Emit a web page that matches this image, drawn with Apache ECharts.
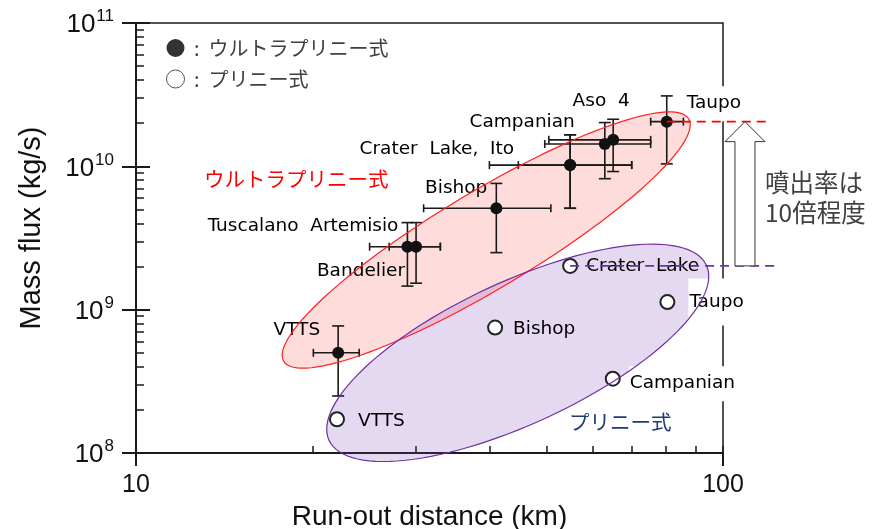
<!DOCTYPE html>
<html>
<head>
<meta charset="utf-8">
<script src="https://cdn.jsdelivr.net/npm/echarts@6/dist/echarts.min.js"></script>
<style>
html, body { margin: 0; padding: 0; background: #fff; }
#chart { width: 881px; height: 529px; }
</style>
</head>
<body>
<div id="chart"></div>
<script>
// Ultra-Plinian eruptions (filled dots): run-out distance (km) and mass flux (kg/s)
const ultraNames = ['Taupo', 'Aso 4', 'Campanian', 'Crater Lake', 'Ito', 'Bishop', 'Tuscalano/Artemisio', 'Bandelier', 'VTTS'];
const ultraDist  = [80.2, 65.0, 62.9, 54.9, 54.9, 41.1, 29.0, 30.0, 22.1];
const ultraFlux  = [2.05e10, 1.53e10, 1.43e10, 1.02e10, 1.02e10, 5.1e9, 2.75e9, 2.75e9, 5.0e8];
// Error ranges for the ultra-Plinian points
const ultraDistLow  = [75.3, 50.5, 49.7, 40.0, 44.8, 30.9, 25.0, 27.0, 20.05];
const ultraDistHigh = [85.6, 75.3, 75.3, 69.9, 69.9, 50.9, 33.0, 33.0, 24.0];
const ultraFluxLow  = [1.04e10, 9.2e9, 8.2e9, 5.1e9, 5.1e9, 2.5e9, 1.46e9, 1.53e9, 2.5e8];
const ultraFluxHigh = [3.1e10, 2.13e10, 2.02e10, 1.66e10, 1.66e10, 7.6e9, 4.05e9, 4.05e9, 7.7e8];
// Text shown beside each ultra-Plinian point ('' = no text)
const ultraLabels = ['Taupo', 'Aso  4', 'Campanian', 'Crater  Lake,  Ito', '', 'Bishop', 'Tuscalano  Artemisio', 'Bandelier', 'VTTS'];

// Plinian eruptions (open circles)
const plinianNames = ['VTTS', 'Bishop', 'Crater Lake', 'Taupo', 'Campanian'];
const plinianDist  = [22.0, 40.9, 54.9, 80.4, 64.9];
const plinianFlux  = [1.72e8, 7.5e8, 2.02e9, 1.13e9, 3.3e8];
const plinianLabels = ['VTTS', 'Bishop', 'Crater  Lake', 'Taupo', 'Campanian'];

// Axis ranges and tick values
const xRange = [10, 100];
const yRange = [1e8, 1e11];
const xMinorTicks = [10, 20, 30, 40, 50, 60, 70, 80, 90, 100];
const yMajorTicks = [1e8, 1e9, 1e10, 1e11];
const yMinorTicks = [2e8, 3e8, 4e8, 5e8, 6e8, 7e8, 8e8, 9e8,
                     2e9, 3e9, 4e9, 5e9, 6e9, 7e9, 8e9, 9e9,
                     2e10, 3e10, 4e10, 5e10, 6e10, 7e10, 8e10, 9e10];

// Group envelopes: centre in data units
const ultraEnvelopeCentre = [39.5, 3.06e9];
const plinianEnvelopeCentre = [44.7, 5.0e8];
// Guide lines run past the right edge of the plot to these distances
const redGuideEnd = 121;
const purpleGuideEnd = 123;
const arrowDist = 109;

// Label placement (offset from point centre, px)
const ultraLabelPlace = {
  'Taupo':                {align: 'left',   dx: 19,  dy: -18, bg: true},
  'Aso  4':               {align: 'center', dx: -12, dy: -39},
  'Campanian':            {align: 'right',  dx: -30, dy: -22},
  'Crater  Lake,  Ito':   {align: 'right',  dx: -56, dy: -16},
  'Bishop':               {align: 'right',  dx: -9,  dy: -20},
  'Tuscalano  Artemisio': {align: 'right',  dx: -9,  dy: -21},
  'Bandelier':            {align: 'right',  dx: -11, dy: 24},
  'VTTS':                 {align: 'right',  dx: -18, dy: -23}
};
const plinianLabelPlace = {
  'VTTS':         {align: 'left', dx: 21, dy: 2},
  'Bishop':       {align: 'left', dx: 18, dy: 2},
  'Crater  Lake': {align: 'left', dx: 16, dy: 0},
  'Taupo':        {align: 'left', dx: 21, dy: 0, bg: true, padV: 14},
  'Campanian':    {align: 'left', dx: 16, dy: 5, bg: true}
};

const labelFont = 'DejaVu Sans';
const jpFont = 'Noto Sans CJK JP';

function makeLabel(text, place) {
  if (!text) return {show: false};
  const pv = place.padV || 8;
  return {
    show: true,
    formatter: text,
    position: 'inside',
    align: place.align,
    verticalAlign: 'middle',
    offset: [place.dx, place.dy],
    color: '#000',
    fontSize: 18.5,
    fontFamily: labelFont,
    backgroundColor: place.bg ? '#fff' : 'transparent',
    padding: place.bg ? [pv, 3, pv, 1] : 0
  };
}

const ultraData = ultraNames.map((n, i) => ({
  name: n,
  value: [ultraDist[i], ultraFlux[i]],
  label: makeLabel(ultraLabels[i], ultraLabelPlace[ultraLabels[i]] || {})
}));
const plinianData = plinianNames.map((n, i) => ({
  name: n,
  value: [plinianDist[i], plinianFlux[i]],
  label: makeLabel(plinianLabels[i], plinianLabelPlace[plinianLabels[i]])
}));
const errorData = ultraNames.map((n, i) => [
  ultraDist[i], ultraFlux[i], ultraDistLow[i], ultraDistHigh[i], ultraFluxLow[i], ultraFluxHigh[i]
]);

const chart = echarts.init(document.getElementById('chart'), null, {renderer: 'canvas'});

const ink = '#1a1a1a';

function renderErrorBar(params, api) {
  const x = api.value(0), y = api.value(1);
  const c = api.coord([x, y]);
  const l = api.coord([api.value(2), y]);
  const r = api.coord([api.value(3), y]);
  const b = api.coord([x, api.value(4)]);
  const t = api.coord([x, api.value(5)]);
  const style = {stroke: ink, lineWidth: 1.6, fill: null};
  const capW = 6, capH = 4;
  const seg = (x1, y1, x2, y2) => ({type: 'line', shape: {x1, y1, x2, y2}, style});
  return {
    type: 'group',
    children: [
      seg(l[0], c[1], r[0], c[1]),
      seg(l[0], c[1] - capH, l[0], c[1] + capH),
      seg(r[0], c[1] - capH, r[0], c[1] + capH),
      seg(c[0], t[1], c[0], b[1]),
      seg(c[0] - capW, t[1], c[0] + capW, t[1]),
      seg(c[0] - capW, b[1], c[0] + capW, b[1])
    ]
  };
}

// Rotated ellipse drawn around a data-space centre
function ellipseRenderer(a, b, angleDeg, style) {
  return function (params, api) {
    const c = api.coord([api.value(0), api.value(1)]);
    const th = angleDeg * Math.PI / 180;
    const pts = [];
    for (let k = 0; k < 120; k++) {
      const t = k / 120 * Math.PI * 2;
      const ex = a * Math.cos(t), ey = b * Math.sin(t);
      pts.push([c[0] + ex * Math.cos(th) + ey * Math.sin(th),
                c[1] - ex * Math.sin(th) + ey * Math.cos(th)]);
    }
    return {type: 'polygon', shape: {points: pts}, style: style};
  };
}

// Horizontal dashed guide from a point out to a given distance
function guideRenderer(color) {
  return function (params, api) {
    const p0 = api.coord([api.value(0), api.value(1)]);
    const p1 = api.coord([api.value(2), api.value(1)]);
    return {
      type: 'line',
      shape: {x1: p0[0], y1: p0[1], x2: p1[0], y2: p1[1]},
      style: {stroke: color, lineWidth: 1.6, lineDash: [9, 6], fill: null}
    };
  };
}

function renderArrow(params, api) {
  const tip = api.coord([api.value(0), api.value(1)]);
  const base = api.coord([api.value(0), api.value(2)]);
  const hw = 20, sw = 10, hh = 20;
  const x = tip[0], y = tip[1];
  return {
    type: 'polygon',
    shape: {points: [
      [x, y], [x + hw, y + hh], [x + sw, y + hh], [x + sw, base[1]],
      [x - sw, base[1]], [x - sw, y + hh], [x - hw, y + hh]
    ]},
    style: {fill: '#fff', stroke: '#333', lineWidth: 1}
  };
}

const hiddenAxisBits = {
  axisLine: {show: false},
  axisLabel: {show: false},
  splitLine: {show: false}
};

const option = {
  animation: false,
  backgroundColor: '#fff',
  grid: {
    left: 136, right: 158, top: 23, bottom: 76,
    outerBoundsMode: 'none', containLabel: false,
    show: true, borderColor: ink, borderWidth: 1.5, backgroundColor: 'transparent'
  },
  legend: {
    data: [
      {name: 'ウルトラプリニー式', icon: 'circle', itemStyle: {color: '#333', borderWidth: 0}},
      {name: 'プリニー式', icon: 'circle', itemStyle: {color: '#fff', borderColor: '#555', borderWidth: 1}}
    ],
    orient: 'vertical',
    left: 161, top: 33,
    itemWidth: 18, itemHeight: 18, itemGap: 11,
    selectedMode: false,
    formatter: ' :  {name}',
    textStyle: {fontSize: 20, color: '#404040', fontFamily: jpFont}
  },
  xAxis: [
    {
      type: 'log', logBase: 10, min: xRange[0], max: xRange[1], position: 'bottom',
      axisLine: {show: true, onZero: false, lineStyle: {color: ink, width: 2}},
      axisTick: {show: true, inside: false, length: 13, lineStyle: {color: ink, width: 2}},
      axisLabel: {fontSize: 25, margin: 20, color: '#111', fontFamily: 'Liberation Sans'},
      splitLine: {show: false},
      name: 'Run-out distance (km)', nameLocation: 'middle', nameGap: 47,
      nameTextStyle: {fontSize: 28, color: '#111', fontFamily: 'Liberation Sans'}
    },
    Object.assign({
      type: 'log', logBase: 10, min: xRange[0], max: xRange[1], position: 'bottom',
      axisTick: {show: true, inside: true, length: 7, customValues: xMinorTicks, lineStyle: {color: ink, width: 1.5}}
    }, hiddenAxisBits)
  ],
  yAxis: [
    {
      type: 'log', logBase: 10, min: yRange[0], max: yRange[1], position: 'left',
      axisLine: {show: true, onZero: false, lineStyle: {color: ink, width: 2}},
      axisTick: {show: true, inside: false, length: 14, lineStyle: {color: ink, width: 2}},
      axisLabel: {
        margin: 22, color: '#111', fontFamily: 'Liberation Sans',
        formatter: v => '{b|10}{s|' + Math.round(Math.log10(v)) + '}',
        rich: {
          b: {fontSize: 26, fontFamily: 'Liberation Sans', color: '#111', verticalAlign: 'bottom', lineHeight: 30},
          s: {fontSize: 17, fontFamily: 'Liberation Sans', color: '#111', verticalAlign: 'top', lineHeight: 18, padding: [0, 0, 0, 1]}
        }
      },
      splitLine: {show: false},
      name: 'Mass flux (kg/s)', nameLocation: 'middle', nameGap: 90, nameRotate: 90,
      nameTextStyle: {fontSize: 29, color: '#111', fontFamily: 'Liberation Sans', padding: [0, 0, 0, 20]}
    },
    Object.assign({
      type: 'log', logBase: 10, min: yRange[0], max: yRange[1], position: 'left',
      axisTick: {show: true, inside: true, length: 14, customValues: yMajorTicks, lineStyle: {color: ink, width: 2}}
    }, hiddenAxisBits),
    Object.assign({
      type: 'log', logBase: 10, min: yRange[0], max: yRange[1], position: 'left',
      axisTick: {show: true, inside: true, length: 8, customValues: yMinorTicks, lineStyle: {color: ink, width: 1.5}}
    }, hiddenAxisBits)
  ],
  graphic: [
    {type: 'text', left: 204, top: 169, z: 10,
     style: {text: 'ウルトラプリニー式', fontSize: 20.5, fontFamily: jpFont, fill: '#ff0000'}},
    {type: 'text', left: 569, top: 412, z: 10,
     style: {text: 'プリニー式', fontSize: 20.5, fontFamily: jpFont, fill: '#1f3a78'}},
    {type: 'text', left: 765, top: 168, z: 10,
     style: {text: '噴出率は\n10倍程度', fontSize: 24.5, lineHeight: 30, fontFamily: jpFont, fill: '#404040'}}
  ],
  series: [
    {
      type: 'custom', name: 'ultraEnvelopeFill', z: 1, clip: false, silent: true,
      data: [ultraEnvelopeCentre],
      renderItem: ellipseRenderer(236, 48.6, 30.9, {fill: 'rgba(255,120,120,0.26)', stroke: null})
    },
    {
      type: 'custom', name: 'plinianEnvelopeFill', z: 1, clip: false, silent: true,
      data: [plinianEnvelopeCentre],
      renderItem: ellipseRenderer(208, 71, 24.9, {fill: 'rgba(125,65,190,0.2)', stroke: null})
    },
    {
      type: 'custom', name: 'errorBars', z: 3, clip: false, silent: true,
      data: errorData,
      encode: {x: 0, y: 1},
      renderItem: renderErrorBar
    },
    {
      type: 'scatter', name: 'ウルトラプリニー式', z: 4,
      symbol: 'circle', symbolSize: 12,
      itemStyle: {color: '#111', opacity: 1},
      data: ultraData
    },
    {
      type: 'scatter', name: 'プリニー式', z: 4,
      symbol: 'circle', symbolSize: 14,
      itemStyle: {color: '#fff', borderColor: '#222', borderWidth: 2, opacity: 1},
      data: plinianData
    },
    {
      type: 'custom', name: 'ultraEnvelopeEdge', z: 6, clip: false, silent: true,
      data: [ultraEnvelopeCentre],
      renderItem: ellipseRenderer(236, 48.6, 30.9, {fill: null, stroke: '#ff2020', lineWidth: 1.2})
    },
    {
      type: 'custom', name: 'plinianEnvelopeEdge', z: 6, clip: false, silent: true,
      data: [plinianEnvelopeCentre],
      renderItem: ellipseRenderer(208, 71, 24.9, {fill: null, stroke: '#7030a0', lineWidth: 1.2})
    },
    {
      type: 'custom', name: 'ultraGuide', z: 6, clip: false, silent: true,
      data: [[ultraDist[0], ultraFlux[0], redGuideEnd]],
      encode: {x: 0, y: 1},
      renderItem: guideRenderer('#ff0000')
    },
    {
      type: 'custom', name: 'plinianGuide', z: 6, clip: false, silent: true,
      data: [[plinianDist[2], plinianFlux[2], purpleGuideEnd]],
      encode: {x: 0, y: 1},
      renderItem: guideRenderer('#7030a0')
    },
    {
      type: 'custom', name: 'ratioArrow', z: 7, clip: false, silent: true,
      data: [[arrowDist, ultraFlux[0], plinianFlux[2]]],
      encode: {x: 0, y: 1},
      renderItem: renderArrow
    }
  ]
};

chart.setOption(option);
</script>
</body>
</html>
